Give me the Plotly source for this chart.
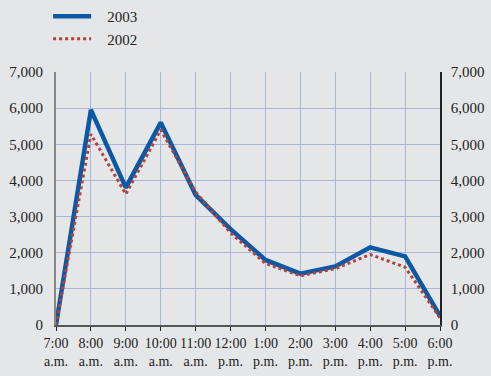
import plotly.graph_objects as go

hours = ["7:00<br>a.m.", "8:00<br>a.m.", "9:00<br>a.m.", "10:00<br>a.m.", "11:00<br>a.m.",
         "12:00<br>p.m.", "1:00<br>p.m.", "2:00<br>p.m.", "3:00<br>p.m.", "4:00<br>p.m.",
         "5:00<br>p.m.", "6:00<br>p.m."]
y2003 = [0, 5950, 3800, 5600, 3600, 2650, 1800, 1420, 1620, 2150, 1900, 250]
y2002 = [0, 5280, 3620, 5400, 3680, 2550, 1700, 1360, 1560, 1950, 1600, 200]
series_names = ["2003", "2002"]
yticks = [0, 1000, 2000, 3000, 4000, 5000, 6000, 7000]
yticktext = ["0", "1,000", "2,000", "3,000", "4,000", "5,000", "6,000", "7,000"]

xs = list(range(len(hours)))
BG = "#e5e6e8"
GRID = "#a8b5dc"
FAM = "Liberation Serif"
FONT = dict(family=FAM, size=15, color="#222222")
PAD = "\u00a0\u00a0\u00a0"

fig = go.Figure()
fig.add_trace(go.Scatter(x=xs, y=y2003, name=PAD + series_names[0], mode="lines",
                         line=dict(color="#0b58a5", width=4.5)))
fig.add_trace(go.Scatter(x=xs, y=y2002, name=PAD + series_names[1], mode="lines",
                         line=dict(color="#b5413a", width=3, dash="dot")))
fig.add_trace(go.Scatter(x=xs, y=y2003, yaxis="y2", mode="lines", showlegend=False,
                         line=dict(width=0), hoverinfo="skip", opacity=0))

fig.update_layout(
    width=491, height=376,
    margin=dict(l=56, r=51, t=72, b=51, autoexpand=False),
    paper_bgcolor=BG, plot_bgcolor=BG,
    font=FONT,
    showlegend=True,
    legend=dict(xref="container", yref="container", x=0.098, y=1.0,
                xanchor="left", yanchor="top", bgcolor="rgba(0,0,0,0)",
                font=dict(family=FAM, size=15, color="#222"),
                itemwidth=38, tracegroupgap=0),
    xaxis=dict(range=[0, 11], tickmode="array", tickvals=xs, ticktext=hours,
               showgrid=True, gridcolor=GRID, gridwidth=1, zeroline=False, automargin=False,
               showline=True, linecolor="#555555", linewidth=1.5,
               ticks="outside", ticklen=4, tickcolor="#222", tickfont=dict(family=FAM, size=14)),
    yaxis=dict(range=[0, 7000], tickmode="array", tickvals=yticks, ticktext=yticktext,
               showgrid=True, gridcolor=GRID, gridwidth=1, zeroline=False, automargin=False,
               showline=True, linecolor="#888888", linewidth=2, ticks="", ticklabelstandoff=8,
               tickfont=dict(family=FAM, size=15)),
    yaxis2=dict(range=[0, 7000], tickmode="array", tickvals=yticks, ticktext=yticktext,
                overlaying="y", side="right", showgrid=False, zeroline=False, automargin=False,
                showline=True, linecolor="#222222", linewidth=1.5, ticks="", ticklabelstandoff=6,
                tickfont=dict(family=FAM, size=15)),
)
fig.write_html("out.html")
